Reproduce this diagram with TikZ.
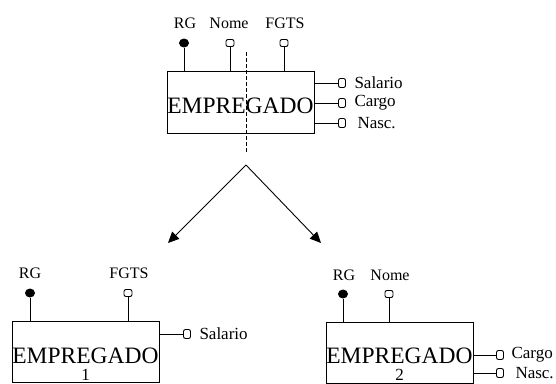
\documentclass[tikz,border=0pt]{standalone}
\usepackage{fontspec}
\setmainfont{Liberation Serif}
\usetikzlibrary{arrows.meta,shapes.geometric}
\begin{document}
\begin{tikzpicture}[x=1pt,y=-1pt,line width=1pt,
  ebox/.style={draw,rectangle,minimum width=147pt,minimum height=61pt,inner sep=0pt,line width=1pt},
  etext/.style={inner sep=0pt,font=\fontsize{23.5}{17.5}\selectfont},
  keyattr/.style={ellipse,fill=black,minimum width=10pt,minimum height=9pt,inner sep=0pt},
  topattr/.style={draw,rounded corners=2pt,minimum width=8pt,minimum height=7pt,inner sep=0pt,line width=0.9pt,fill=white},
  sideattr/.style={draw,rounded corners=2pt,minimum width=7pt,minimum height=9pt,inner sep=0pt,line width=0.9pt,fill=white},
  toplab/.style={inner sep=0pt,font=\fontsize{16}{16}\selectfont},
  sidelab/.style={inner sep=0pt,anchor=west,font=\fontsize{17}{17}\selectfont},
  conn/.style={line width=0.9pt,-{Triangle[length=11pt,width=10pt]}}
]
\useasboundingbox (0,0) rectangle (556,383);
% ---- top entity ----
\node[ebox,minimum height=62pt] (e) at (240.5,102) {};
\node[etext] (et) at (240.5,106) {EMPREGADO};
\node[keyattr] (rg) at (184,43) {};
\node[topattr] (nome) at (230,43) {};
\node[topattr] (fgts) at (284,43) {};
\draw (rg) -- (rg |- e.north);
\draw (nome) -- (nome |- e.north);
\draw (fgts) -- (fgts |- e.north);
\node[toplab] (lrg) at (185,23) {RG};
\node[toplab] (lnome) at (229,23) {Nome};
\node[toplab] (lfgts) at (285,23) {FGTS};
\node[sideattr] (sal) at (342,83) {};
\node[sideattr] (car) at (342,103) {};
\node[sideattr] (nas) at (342,123) {};
\draw (sal) -- (sal -| e.east);
\draw (car) -- (car -| e.east);
\draw (nas) -- (nas -| e.east);
\node[sidelab] (lsal) at (354,83) {Salario};
\node[sidelab] (lcar) at (354,103) {Cargo};
\node[sidelab] (lnas) at (357,123) {Nasc.};
% ---- dashed split line and arrows ----
\coordinate (d1) at (246,52);
\coordinate (d2) at (246,153);
\draw[dash pattern=on 4pt off 2pt,line width=0.9pt] (d1) -- (d2);
\coordinate (apex) at (246,165);
\coordinate (tl) at (168,243);
\coordinate (tr) at (321,243);
\draw[conn] (apex) -- (tl);
\draw[conn] (apex) -- (tr);
% ---- entity 1 ----
\node[ebox] (e1) at (85.5,351.5) {};
\node[etext,align=center,anchor=north] (e1t) at (85.5,347) {EMPREGADO\\{\fontsize{17}{17}\selectfont 1}};
\node[keyattr] (rg1) at (30,293) {};
\node[topattr] (fgts1) at (128,293) {};
\draw (rg1) -- (rg1 |- e1.north);
\draw (fgts1) -- (fgts1 |- e1.north);
\node[toplab] (lrg1) at (30,273) {RG};
\node[toplab] (lfgts1) at (129,273) {FGTS};
\node[sideattr] (sal1) at (187,334) {};
\draw (sal1) -- (sal1 -| e1.east);
\node[sidelab] (lsal1) at (199,334) {Salario};
% ---- entity 2 ----
\node[ebox] (e2) at (399.5,352.5) {};
\node[etext,align=center,anchor=north] (e2t) at (399.5,347) {EMPREGADO\\{\fontsize{17}{17}\selectfont 2}};
\node[keyattr] (rg2) at (343,294) {};
\node[topattr] (nome2) at (389,294) {};
\draw (rg2) -- (rg2 |- e2.north);
\draw (nome2) -- (nome2 |- e2.north);
\node[toplab] (lrg2) at (344,275) {RG};
\node[toplab] (lnome2) at (390,275) {Nome};
\node[sideattr] (car2) at (500,355) {};
\node[sideattr] (nas2) at (500,373) {};
\draw (car2) -- (car2 -| e2.east);
\draw (nas2) -- (nas2 -| e2.east);
\node[sidelab] (lcar2) at (511,355) {Cargo};
\node[sidelab] (lnas2) at (515,373) {Nasc.};
\end{tikzpicture}
\end{document}
